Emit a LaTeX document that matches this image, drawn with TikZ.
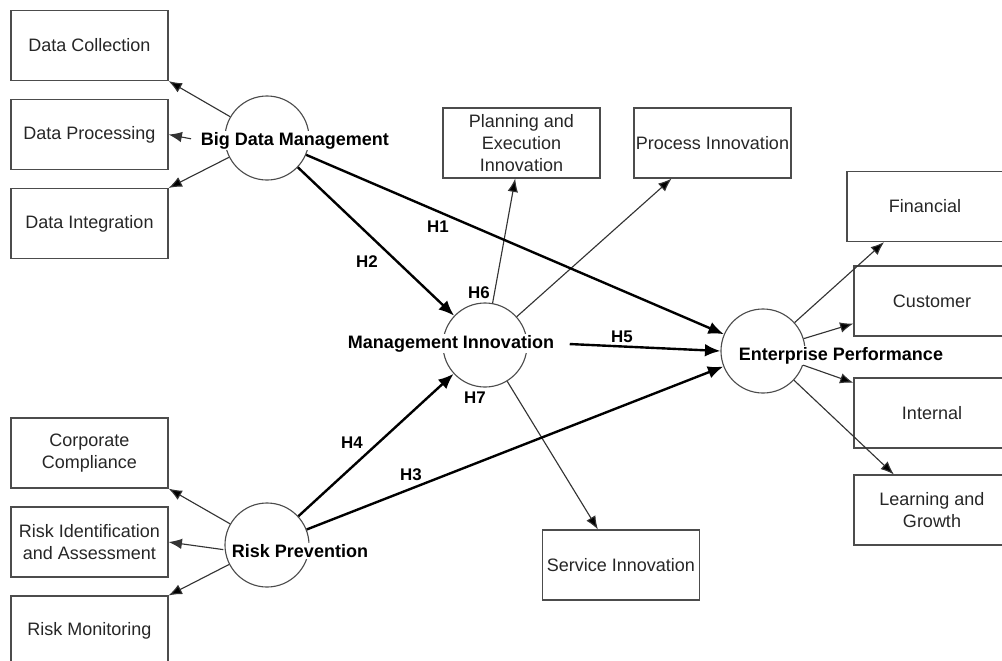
\documentclass[tikz,border=0pt]{standalone}
\usepackage{fontspec}
\setmainfont{Liberation Sans}
\usetikzlibrary{arrows.meta,positioning}
\tikzset{%
  >={Latex[width=7.5pt,length=9.5pt]},
  % Specifications for style of nodes:
          base/.style = {rectangle, draw=black!70, line width=0.8pt,
                         minimum width=3.925cm, minimum height=1.75cm,
                         inner sep=1pt, text centered, text=black!85,
                         font=\fontsize{12.8}{15.4}\selectfont},
           box/.style = {base},
       boxwide/.style = {base, minimum width=3.9cm},
     construct/.style = {circle, draw=black!70, line width=0.8pt,
                         minimum size=2.1cm, inner sep=0pt},
      conlabel/.style = {fill=white, inner sep=1pt, anchor=base,
                         font=\bfseries\fontsize{12.8}{15}\selectfont},
           hyp/.style = {font=\bfseries\fontsize{12}{14}\selectfont},
      hypoline/.style = {-{Latex[width=9pt,length=11pt]}, line width=1.7pt},
     indicator/.style = {->, line width=0.8pt, draw=black!80}
}

\begin{document}
\begin{tikzpicture}[x=0.025cm, y=-0.025cm, node distance=2.225cm,
    align=center]
  \useasboundingbox (0,0) rectangle (1002,660);
  \clip (0,0) rectangle (1002,660);
  % Specification of nodes (position, etc.)
  \node (dc)   [box]             at (89.5,45.5) {Data Collection};
  \node (dp)   [box, below of=dc]               {Data Processing};
  \node (di)   [box, below of=dp]               {Data Integration};

  \node (cc)   [box]             at (89.5,453)  {Corporate\\Compliance};
  \node (ri)   [box, below of=cc]               {Risk Identification\\and Assessment};
  \node (rm)   [box, below of=ri]               {Risk Monitoring};

  \node (pe)   [box]             at (521.5,143) {Planning and\\Execution\\Innovation};
  \node (pr)   [box]             at (712.5,143) {Process Innovation};
  \node (sv)   [box]             at (621,565)   {Service Innovation};

  \node (fi)   [boxwide]         at (925,206.5) {Financial};
  \node (cu)   [boxwide]         at (932,301)   {Customer};
  \node (intl) [boxwide]         at (932,413)   {Internal};
  \node (lg)   [boxwide]         at (932,510)   {Learning and\\Growth};

  % constructs
  \node (bdm)  [construct]       at (267,138)   {};
  \node (mi)   [construct]       at (485,345)   {};
  \node (ep)   [construct]       at (763,351)   {};
  \node (rp)   [construct]       at (267,545)   {};

  \node (bdmtext) [conlabel]     at (295,145)   {Big Data Management};
  \node (mitext)  [conlabel]     at (451,348)   {Management Innovation};
  \node (eptext)  [conlabel]     at (841,360)   {Enterprise Performance};
  \node (rptext)  [conlabel]     at (300,557)   {Risk Prevention};

  % hypotheses
  \node (h1) [hyp] at (438,227) {H1};
  \node (h2) [hyp] at (367,262) {H2};
  \node (h3) [hyp] at (411,475) {H3};
  \node (h4) [hyp] at (352,443) {H4};
  \node (h5) [hyp] at (622,337) {H5};
  \node (h6) [hyp] at (479,293) {H6};
  \node (h7) [hyp] at (475,398) {H7};

  \draw[indicator] (bdm) edge (dc.south east);
  \draw[indicator, shorten <=6pt] (bdmtext.west) -- (dp.east);
  \draw[indicator] (bdm) edge (di.north east);

  \draw[indicator] (rp) edge (cc.south east);
  \draw[indicator, shorten <=5pt] (rptext.west) -- (ri.east);
  \draw[indicator] (rp) edge (rm.north east);

  \draw[indicator] (mi) edge (pe.260);
  \draw[indicator] (mi) edge (pr.221);
  \draw[indicator] (mi) edge (sv.123);

  \draw[indicator] (ep) edge (fi.221);
  \draw[indicator] (ep) edge (cu.196);
  \draw[indicator] (ep) edge (intl.159);
  \draw[indicator] (ep) edge (lg.137);

  \draw[hypoline] (bdm) edge (ep);
  \draw[hypoline] (bdm) edge (mi);
  \draw[hypoline] (rp) edge (ep);
  \draw[hypoline] (rp) edge (mi);
  \draw[hypoline, shorten <=10pt] (mitext.east) -- (ep.west);
\end{tikzpicture}
\end{document}
